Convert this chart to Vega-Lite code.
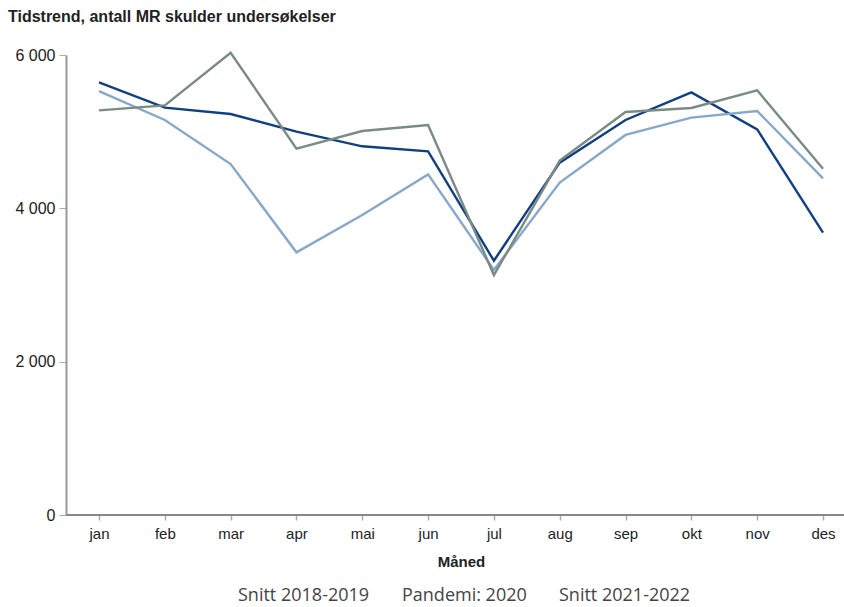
{
  "$schema": "https://vega.github.io/schema/vega-lite/v6.json",
  "width": 778,
  "height": 460,
  "autosize": {"type": "none"},
  "padding": {"left": 66, "top": 55, "right": 0, "bottom": 92},
  "background": "white",
  "title": {
    "text": "Tidstrend, antall MR skulder undersøkelser",
    "anchor": "start",
    "font": "Liberation Sans",
    "fontSize": 16,
    "fontWeight": "bold",
    "color": "#222222",
    "dx": -7,
    "offset": 22
  },
  "data": {
    "values": [
      {"m": "jan", "s": "Snitt 2018-2019", "v": 5644},
      {"m": "feb", "s": "Snitt 2018-2019", "v": 5313},
      {"m": "mar", "s": "Snitt 2018-2019", "v": 5230},
      {"m": "apr", "s": "Snitt 2018-2019", "v": 5000},
      {"m": "mai", "s": "Snitt 2018-2019", "v": 4809},
      {"m": "jun", "s": "Snitt 2018-2019", "v": 4743},
      {"m": "jul", "s": "Snitt 2018-2019", "v": 3317},
      {"m": "aug", "s": "Snitt 2018-2019", "v": 4596},
      {"m": "sep", "s": "Snitt 2018-2019", "v": 5152},
      {"m": "okt", "s": "Snitt 2018-2019", "v": 5513},
      {"m": "nov", "s": "Snitt 2018-2019", "v": 5030},
      {"m": "des", "s": "Snitt 2018-2019", "v": 3683},
      {"m": "jan", "s": "Pandemi: 2020", "v": 5530},
      {"m": "feb", "s": "Pandemi: 2020", "v": 5152},
      {"m": "mar", "s": "Pandemi: 2020", "v": 4578},
      {"m": "apr", "s": "Pandemi: 2020", "v": 3426},
      {"m": "mai", "s": "Pandemi: 2020", "v": 3913},
      {"m": "jun", "s": "Pandemi: 2020", "v": 4443},
      {"m": "jul", "s": "Pandemi: 2020", "v": 3196},
      {"m": "aug", "s": "Pandemi: 2020", "v": 4335},
      {"m": "sep", "s": "Pandemi: 2020", "v": 4957},
      {"m": "okt", "s": "Pandemi: 2020", "v": 5183},
      {"m": "nov", "s": "Pandemi: 2020", "v": 5270},
      {"m": "des", "s": "Pandemi: 2020", "v": 4391},
      {"m": "jan", "s": "Snitt 2021-2022", "v": 5278},
      {"m": "feb", "s": "Snitt 2021-2022", "v": 5343},
      {"m": "mar", "s": "Snitt 2021-2022", "v": 6030},
      {"m": "apr", "s": "Snitt 2021-2022", "v": 4778},
      {"m": "mai", "s": "Snitt 2021-2022", "v": 5009},
      {"m": "jun", "s": "Snitt 2021-2022", "v": 5087},
      {"m": "jul", "s": "Snitt 2021-2022", "v": 3130},
      {"m": "aug", "s": "Snitt 2021-2022", "v": 4622},
      {"m": "sep", "s": "Snitt 2021-2022", "v": 5257},
      {"m": "okt", "s": "Snitt 2021-2022", "v": 5309},
      {"m": "nov", "s": "Snitt 2021-2022", "v": 5539},
      {"m": "des", "s": "Snitt 2021-2022", "v": 4517}
    ]
  },
  "layer": [
    {
      "mark": {"type": "rule", "color": "#888888", "strokeWidth": 2},
      "encoding": {"y": {"datum": 0, "type": "quantitative"}}
    },
    {
      "mark": {"type": "line", "strokeWidth": 2.4, "clip": false},
      "encoding": {
        "x": {
          "field": "m",
          "type": "ordinal",
          "sort": ["jan", "feb", "mar", "apr", "mai", "jun", "jul", "aug", "sep", "okt", "nov", "des"],
          "scale": {"type": "point", "range": [33, 757], "padding": 0},
          "axis": {
            "title": "Måned",
            "titleFont": "Liberation Sans",
            "titleFontSize": 15,
            "titleFontWeight": "bold",
            "titleColor": "#222222",
            "titlePadding": 13,
            "labelFont": "Liberation Sans",
            "labelFontSize": 15,
            "labelColor": "#222222",
            "labelAngle": 0,
            "labelPadding": 6,
            "domain": false,
            "tickColor": "#aaaaaa",
            "tickSize": 5,
            "tickWidth": 1.5,
            "grid": false
          }
        },
        "y": {
          "field": "v",
          "type": "quantitative",
          "scale": {"domain": [0, 6000], "nice": false},
          "axis": {
            "title": null,
            "values": [0, 2000, 4000, 6000],
            "labelExpr": "replace(format(datum.value, ',d'), ',', ' ')",
            "labelFont": "Liberation Sans",
            "labelFontSize": 16,
            "labelColor": "#222222",
            "labelPadding": 4,
            "domainColor": "#999999",
            "domainWidth": 2,
            "tickColor": "#aaaaaa",
            "tickSize": 7,
            "tickWidth": 1,
            "gridColor": "#cccccc",
            "gridWidth": 1
          }
        },
        "color": {
          "field": "s",
          "type": "nominal",
          "sort": ["Snitt 2018-2019", "Pandemi: 2020", "Snitt 2021-2022"],
          "scale": {
            "domain": ["Snitt 2018-2019", "Pandemi: 2020", "Snitt 2021-2022"],
            "range": ["#0f4082", "#87a8cb", "#7a8a84"]
          },
          "legend": {
            "title": null,
            "orient": "bottom",
            "direction": "horizontal",
            "symbolSize": 0,
            "symbolStrokeWidth": 0,
            "symbolOpacity": 0,
            "labelOffset": 0,
            "labelFont": "Open Sans",
            "labelFontSize": 18,
            "labelColor": "#444444",
            "columnPadding": 14,
            "offset": 18,
            "labelLimit": 300
          }
        }
      }
    }
  ],
  "config": {
    "view": {"stroke": null},
    "legend": {"layout": {"bottom": {"anchor": "middle"}}}
  }
}
